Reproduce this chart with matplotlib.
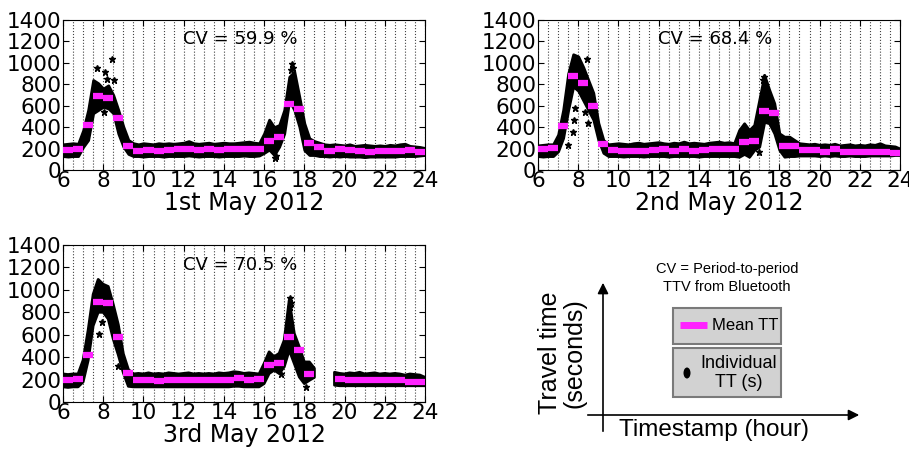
import numpy as np
import matplotlib.pyplot as plt
from matplotlib.patches import Rectangle, Ellipse

# half-hour periods 6:00 .. 23:30 (start of each period)
period_start = np.arange(6, 24, 0.5)
# 15-minute sample times for the individual-TT cloud
t_cloud = np.linspace(6, 24, 73)

days = ['1st May 2012', '2nd May 2012', '3rd May 2012']
cv_text = ['CV = 59.9 %', 'CV = 68.4 %', 'CV = 70.5 %']

# mean TT per half hour (seconds)
mean_day1 = [187, 193, 420, 694, 675, 488, 224, 180, 187, 180, 187, 193, 200, 187, 195, 187, 193, 193,
             200, 193, 274, 311, 616, 566, 255, 218, 180, 193, 184, 178, 171, 178, 180, 180, 184, 171]
mean_day2 = [193, 202, 410, 877, 809, 597, 243, 187, 180, 180, 180, 190, 193, 180, 200, 180, 190, 200,
             200, 200, 264, 274, 550, 535, 224, 224, 187, 187, 171, 193, 168, 168, 168, 168, 168, 155]
mean_day3 = [194, 206, 417, 894, 879, 581, 259, 200, 200, 190, 200, 200, 200, 194, 194, 200, 200, 217,
             200, 206, 328, 349, 581, 468, 253, np.nan, np.nan, 209, 200, 194, 194, 194, 194, 200, 182, 182]

# upper / lower edge of the individual TT cloud every 15 min
hi_day1 = [240, 245, 250, 245, 370, 560, 840, 810, 760, 790, 700, 560, 405, 280, 250, 240, 250, 245,
           240, 250, 245, 250, 245, 250, 255, 270, 250, 245, 250, 255, 245, 250, 255, 250, 250, 255,
           260, 265, 255, 250, 342, 470, 400, 420, 560, 870, 920, 684, 436, 296, 270, 255, 240, 235,
           240, 235, 230, 240, 225, 230, 235, 230, 225, 230, 225, 235, 230, 240, 245, 225, 220, 215, 205]
lo_day1 = [130, 125, 130, 130, 215, 280, 530, 560, 590, 575, 530, 340, 218, 150, 130, 130, 125, 130,
           130, 130, 125, 130, 130, 130, 130, 135, 130, 125, 130, 130, 130, 125, 130, 130, 130, 130,
           135, 130, 130, 135, 160, 190, 140, 218, 340, 650, 560, 405, 186, 140, 140, 130, 130, 125,
           130, 125, 130, 125, 125, 125, 120, 125, 125, 125, 125, 125, 125, 130, 130, 130, 130, 135, 140]

hi_day2 = [230, 235, 240, 240, 330, 560, 900, 1080, 1060, 960, 840, 720, 440, 280, 240, 245, 250, 245,
           240, 250, 255, 245, 250, 255, 260, 250, 245, 255, 250, 265, 250, 255, 250, 245, 255, 260,
           265, 255, 260, 250, 373, 436, 373, 420, 653, 887, 747, 622, 342, 311, 311, 280, 250, 245,
           240, 245, 235, 240, 235, 245, 230, 235, 240, 230, 235, 230, 240, 235, 250, 230, 225, 220, 200]
lo_day2 = [130, 125, 130, 130, 175, 300, 560, 780, 740, 650, 560, 470, 280, 160, 130, 130, 130, 125,
           130, 130, 130, 125, 130, 130, 130, 130, 125, 130, 130, 130, 130, 130, 125, 130, 130, 130,
           130, 130, 130, 130, 124, 150, 124, 187, 218, 450, 436, 342, 187, 124, 130, 130, 135, 135,
           135, 135, 130, 135, 130, 135, 130, 130, 135, 130, 130, 130, 135, 135, 135, 135, 135, 140, 140]

hi_day3 = [250, 245, 250, 250, 373, 640, 960, 1093, 1050, 1030, 870, 690, 430, 290, 250, 255, 250, 260,
           250, 255, 250, 260, 255, 250, 255, 260, 250, 255, 250, 255, 250, 260, 255, 260, 270, 265,
           255, 260, 255, 250, 343, 447, 404, 434, 551, 909, 611, 491, 357, 357, 300, np.nan, np.nan, np.nan,
           265, 255, 250, 260, 255, 265, 250, 255, 260, 250, 255, 250, 255, 250, 240, 250, 245, 240, 220]
lo_day3 = [135, 130, 135, 135, 179, 370, 680, 800, 800, 740, 560, 420, 260, 140, 135, 135, 135, 135,
           135, 135, 135, 135, 135, 135, 135, 135, 135, 135, 135, 135, 135, 135, 135, 135, 140, 140,
           135, 135, 135, 135, 164, 254, 284, 254, 313, 462, 343, 223, 164, 193, 220, np.nan, np.nan, np.nan,
           150, 145, 145, 145, 145, 145, 145, 145, 145, 145, 145, 145, 145, 145, 145, 145, 145, 145, 145]

# stray individual TT points
out_t_day1 = [7.7, 8.09, 8.17, 8.42, 8.55, 8.05, 17.38, 17.45, 17.33, 16.55, 16.6]
out_v_day1 = [950, 917, 849, 1040, 840, 540, 985, 955, 930, 115, 130]
out_t_day2 = [8.43, 7.85, 7.77, 7.72, 7.49, 8.48, 8.35, 17.0, 17.22, 17.18]
out_v_day2 = [1033, 576, 467, 358, 233, 442, 540, 171, 870, 840]
out_t_day3 = [7.78, 7.94, 8.74, 17.3, 17.32, 17.28, 16.85, 18.1]
out_v_day3 = [602, 715, 319, 924, 880, 850, 250, 130]

means = [mean_day1, mean_day2, mean_day3]
his = [hi_day1, hi_day2, hi_day3]
los = [lo_day1, lo_day2, lo_day3]
out_t = [out_t_day1, out_t_day2, out_t_day3]
out_v = [out_v_day1, out_v_day2, out_v_day3]

fig = plt.figure(figsize=(9.09, 4.49), dpi=100)
boxes = [[63 / 909, 1 - 170 / 449, 362 / 909, 150 / 449],
         [538 / 909, 1 - 170 / 449, 362 / 909, 150 / 449],
         [63 / 909, 1 - 402 / 449, 362 / 909, 157 / 449]]

for i in range(3):
    ax = fig.add_axes(boxes[i])
    hi = np.array(his[i], dtype=float)
    lo = np.array(los[i], dtype=float)
    ax.fill_between(t_cloud, lo, hi, color='black', edgecolor='black', linewidth=2, zorder=2)
    ax.plot(out_t[i], out_v[i], '*', color='black', markersize=5, zorder=2)
    ax.hlines(means[i], period_start, period_start + 0.5, colors='#ff22ff', linewidth=4.5, zorder=3)
    ax.set_xlim(6, 24)
    ax.set_ylim(0, 1400)
    ax.set_xticks(np.arange(6, 25, 2))
    ax.set_yticks(np.arange(0, 1401, 200))
    ax.set_xticks(np.arange(6, 24.1, 0.5), minor=True)
    ax.grid(True, which='both', axis='x', linestyle=':', color='#444444', linewidth=0.8)
    ax.tick_params(direction='in', top=True, right=True, labelsize=15.5, pad=1, length=4)
    ax.tick_params(which='minor', length=0)
    ax.set_xlabel(days[i], fontsize=17, labelpad=0)
    ax.text(0.49, 0.87, cv_text[i], transform=ax.transAxes, ha='center', va='center', fontsize=13)
    for s in ax.spines.values():
        s.set_linewidth(0.8)

# legend sketch in lower right
lg = fig.add_axes([480 / 909, 0, 429 / 909, 229 / 449])
lg.set_xlim(480, 909)
lg.set_ylim(449, 220)
lg.axis('off')
lg.annotate('', xy=(603, 280), xytext=(603, 434),
            arrowprops=dict(arrowstyle='-|>', color='black', lw=1.2, mutation_scale=16))
lg.annotate('', xy=(862, 415), xytext=(585, 415),
            arrowprops=dict(arrowstyle='-|>', color='black', lw=1.2, mutation_scale=16))
lg.text(562, 353, 'Travel time\n(seconds)', rotation=90, ha='center', va='center',
        fontsize=18, family='Liberation Sans', linespacing=1.0)
lg.text(714, 430, 'Timestamp (hour)', ha='center', va='center', fontsize=17.5, family='Liberation Sans')
lg.text(727, 278, 'CV = Period-to-period\nTTV from Bluetooth', ha='center', va='center',
        fontsize=10.5, family='Liberation Sans', linespacing=1.3)
lg.add_patch(Rectangle((673, 308), 108, 36, facecolor='#d2d2d2', edgecolor='#7a7a7a', lw=1.5))
lg.add_patch(Rectangle((673, 348), 108, 49, facecolor='#d2d2d2', edgecolor='#7a7a7a', lw=1.5))
lg.plot([680, 707], [325, 325], color='#ff22ff', lw=5, solid_capstyle='butt')
lg.text(712, 326, 'Mean TT', ha='left', va='center', fontsize=12, family='Liberation Sans')
lg.add_patch(Ellipse((687, 373), 7, 11, facecolor='black', edgecolor='none'))
lg.text(739, 373, 'Individual\nTT (s)', ha='center', va='center', fontsize=13,
        family='Liberation Sans', linespacing=1.1)

fig.savefig('out.png', dpi=100)
